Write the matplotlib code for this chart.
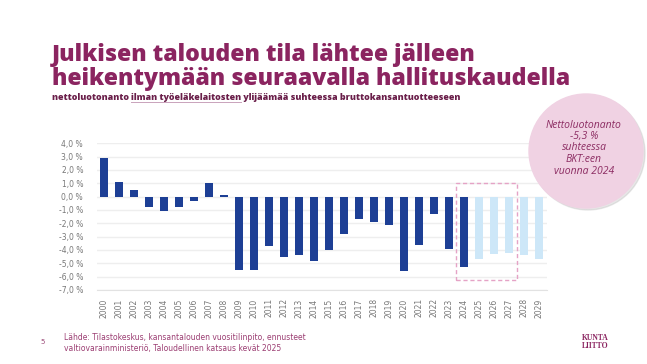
import matplotlib.pyplot as plt
from matplotlib.patches import Circle, Rectangle

# data
years = [str(y) for y in range(2000, 2030)]
values = [2.9, 1.1, 0.5, -0.8, -1.1, -0.75, -0.3, 1.0, 0.1, -5.5,
          -5.5, -3.7, -4.5, -4.4, -4.8, -4.0, -2.8, -1.7, -1.9, -2.1,
          -5.6, -3.6, -1.3, -3.9, -5.3, -4.7, -4.3, -4.2, -4.4, -4.7]
forecast_from = 2025
yticks = list(range(-7, 5))

dark_blue = '#1d3f95'
light_blue = '#cde7f8'
magenta = '#8b2460'

fig = plt.figure(figsize=(6.47, 3.64), dpi=100)
fig.patch.set_facecolor('white')

#####################################################################
# bar chart
ax = fig.add_axes([97 / 647, 1 - 290 / 364, 450 / 647, 146.7 / 364])
colors = [dark_blue if int(y) < forecast_from else light_blue for y in years]
ax.bar(range(len(years)), values, width=0.48, color=colors, zorder=3)
ax.set_xlim(-0.47, len(years) - 0.47)
ax.set_ylim(-7, 4)
ax.set_yticks(yticks)
ax.set_yticklabels([f'{t:.1f} %'.replace('.', ',') for t in yticks])
ax.set_xticks(range(len(years)))
ax.set_xticklabels(years, rotation=90)
ax.tick_params(axis='both', length=0, labelsize=5.5, labelcolor='#777777')
ax.tick_params(axis='x', pad=6)
ax.tick_params(axis='y', pad=10)
ax.grid(axis='y', color='#eeeeee', linewidth=1, zorder=0)
for s in ['top', 'right', 'left']:
    ax.spines[s].set_visible(False)
ax.spines['bottom'].set_color('#e2e2e2')

# dashed box around 2024-2027
box = Rectangle((23.45, -6.25), 4.1, 7.25, fill=False, edgecolor='#e5a3c6',
                linestyle=(0, (3, 2)), linewidth=1, clip_on=False, zorder=4)
ax.add_patch(box)

#####################################################################
# overlay for title, circle and footer (pixel coordinates)
ov = fig.add_axes([0, 0, 1, 1], zorder=5)
ov.set_xlim(0, 647)
ov.set_ylim(364, 0)
ov.axis('off')
ov.patch.set_alpha(0)

title_font = dict(fontsize=16.6, fontweight='extra bold', family='Open Sans', color=magenta)
ov.text(52, 61, 'Julkisen talouden tila lähtee jälleen', va='baseline', **title_font)
ov.text(52, 85, 'heikentymään seuraavalla hallituskaudella', va='baseline', **title_font)

# subtitle with underlined middle part
sub_font = dict(fontsize=6.4, fontweight='extra bold', family='Open Sans', color='#6a1f4a')
sub_parts = ['nettoluotonanto ', 'ilman työeläkelaitosten', ' ylijäämää suhteessa bruttokansantuotteeseen']
fig.canvas.draw()
r = fig.canvas.get_renderer()
x = 52
for i, part in enumerate(sub_parts):
    t = ov.text(x, 100.5, part, va='baseline', **sub_font)
    bb = t.get_window_extent(r)
    x_end = bb.x1 / fig.dpi / 6.47 * 647
    if i == 1:
        ov.plot([x, x_end], [102.3, 102.3], color='#c9a3bb', linewidth=0.7)
    x = x_end

# circle callout
ov.add_patch(Circle((588, 153), 57, color='#bbbbbb', alpha=0.35, zorder=1))
ov.add_patch(Circle((586, 151), 57, color='#f0d2e3', zorder=2))
callout = ['Nettoluotonanto', '-5,3 %', 'suhteessa', 'BKT:een', 'vuonna 2024']
for i, line in enumerate(callout):
    ov.text(584, 125 + i * 11.5, line, fontsize=7.5, style='italic', family='Open Sans',
            color='#8c2c62', ha='center', va='center', zorder=3)

# footer
ov.text(40, 342, '5', fontsize=5, color='#9b4a78', va='center')
ov.text(64, 337, 'Lähde: Tilastokeskus, kansantalouden vuositilinpito, ennusteet',
        fontsize=5.5, color='#9b3d72', va='center')
ov.text(64, 348, 'valtiovarainministeriö, Taloudellinen katsaus kevät 2025',
        fontsize=5.5, color='#9b3d72', va='center')
ov.text(595, 342, 'KUNTA\nLIITTO', fontsize=5.5, fontweight='bold', family='Liberation Serif',
        color='#8b2460', ha='center', va='center', linespacing=0.85)

fig.savefig('out.png', dpi=100)
